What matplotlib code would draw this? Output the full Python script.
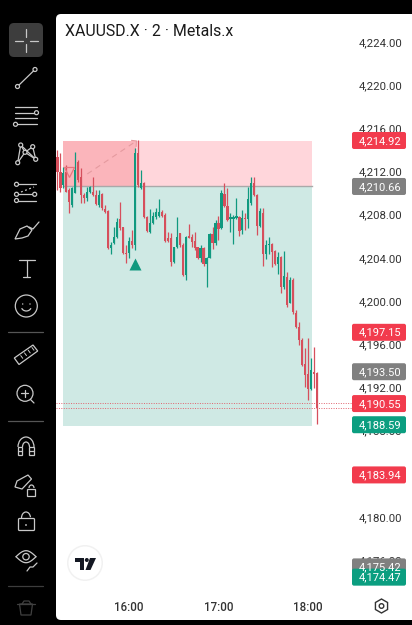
import numpy as np
import matplotlib
matplotlib.use("Agg")
import matplotlib.pyplot as plt
from matplotlib.patches import FancyBboxPatch, Rectangle, Circle, Polygon, RegularPolygon, Arc

plt.rcParams['font.family'] = ['Roboto', 'DejaVu Sans']

TITLE = "XAUUSD.X · 2 · Metals.x"
first_minute = -48   # minutes relative to 16:00
step_minutes = 2

opens = [4213.38,4211.99,4210.76,4211.99,4210.29,4208.91,4209.99,4212.92,4211.53,4209.83,4209.52,4210.14,4210.14,4209.83,4208.91,4209.89,4208.50,4208.38,4204.89,4205.36,4205.91,4207.58,4206.84,4204.43,4204.49,4205.60,4205.20,4213.69,4210.45,4210.91,4207.77,4206.44,4207.21,4207.76,4207.89,4208.29,4207.98,4205.82,4205.82,4203.66,4204.98,4206.28,4205.20,4202.42,4206.03,
         4205.97,4205.57,4204.98,4203.97,4204.89,4203.41,4203.97,4206.22,4205.36,4207.27,4206.75,4209.92,4208.81,4207.58,4207.64,4207.67,4207.76,4206.59,4207.67,4207.58,4209.12,4210.91,4209.83,4206.96,4208.13,4204.37,4205.20,4205.26,4204.64,4203.44,4204.06,4201.28,4202.27,4199.86,4201.96,
         4198.93,4197.63,4196.40,4194.15,4193.25,4191.83,4193.40,4193.38]
highs = [4214.00,4213.69,4212.45,4212.61,4210.45,4210.60,4213.84,4213.07,4212.30,4209.99,4210.60,4210.66,4211.53,4210.29,4210.29,4209.99,4208.91,4208.44,4205.51,4206.90,4207.67,4209.21,4206.90,4205.20,4205.97,4206.59,4214.15,4214.92,4212.15,4211.07,4207.89,4208.50,4208.29,4208.60,4209.43,4208.44,4208.13,4206.44,4206.34,4205.05,4207.76,4206.34,4205.36,4206.03,4207.15,
         4206.22,4206.44,4205.05,4205.20,4205.05,4204.12,4206.28,4206.90,4207.52,4207.89,4210.29,4210.91,4210.45,4208.20,4207.98,4209.52,4207.89,4208.44,4208.13,4210.60,4211.53,4211.47,4209.92,4208.60,4208.60,4205.67,4205.97,4205.36,4204.74,4204.58,4204.18,4204.68,4202.73,4202.27,4202.12,
         4199.18,4198.10,4196.55,4195.63,4196.55,4194.70,4195.78,4193.47]
lows = [4210.29,4210.14,4210.45,4210.14,4208.13,4208.75,4209.99,4211.07,4209.12,4209.12,4209.30,4210.05,4209.74,4208.91,4208.75,4208.44,4208.13,4204.80,4204.37,4205.30,4205.82,4206.59,4204.37,4203.50,4203.97,4204.89,4204.74,4210.60,4210.35,4207.67,4206.38,4206.34,4207.15,4207.58,4207.83,4207.76,4205.51,4205.51,4203.26,4203.50,4204.89,4205.05,4202.33,4201.96,4205.82,
        4205.05,4204.74,4203.88,4203.66,4203.26,4201.34,4203.97,4204.80,4205.20,4205.67,4206.65,4208.69,4207.45,4206.44,4205.30,4207.58,4206.07,4206.22,4206.59,4206.75,4208.91,4209.74,4206.13,4206.84,4203.26,4203.88,4204.37,4203.13,4203.35,4202.52,4200.73,4201.10,4199.49,4199.80,4198.80,
        4197.48,4195.94,4193.99,4192.08,4190.85,4191.77,4191.90,4188.62]
closes = [4211.99,4210.45,4211.84,4210.14,4209.21,4210.45,4212.15,4211.22,4209.83,4209.52,4210.14,4210.60,4209.83,4209.00,4209.83,4208.60,4208.29,4204.89,4205.20,4205.97,4207.36,4206.75,4204.43,4204.37,4205.60,4205.20,4213.69,4210.76,4210.91,4207.77,4206.50,4207.27,4207.89,4208.29,4208.29,4207.89,4205.60,4205.60,4203.66,4204.98,4205.91,4205.20,4202.42,4205.97,4205.82,
          4205.51,4204.89,4203.97,4204.89,4203.41,4203.97,4206.22,4205.36,4207.27,4206.68,4209.99,4208.81,4207.52,4207.76,4207.76,4207.89,4206.53,4207.67,4207.58,4209.46,4210.91,4209.83,4206.96,4208.35,4204.37,4205.20,4205.26,4204.58,4203.44,4204.12,4201.28,4202.33,4199.65,4201.96,4198.94,
          4197.63,4196.40,4194.08,4193.16,4191.83,4193.62,4193.20,4190.07]

y_ticks = [4224,4220,4216,4212,4208,4204,4200,4196,4192,4188,4184,4180,4176]
x_ticks = [0, 60, 120]
x_tick_labels = ["16:00", "17:00", "18:00"]

price_labels = [4214.92, 4210.66, 4197.15, 4193.50, 4190.55, 4188.59, 4183.94, 4175.42, 4174.47]
price_colors = ['#f23b4d', '#808080', '#f23b4d', '#808080', '#f23b4d', '#0b9e80', '#f23b4d', '#808080', '#0b9e80']

stop_level, entry_level, target_level = 4214.83, 4210.66, 4188.40
box_start, box_end, box_split = -44.2, 122.7, 5
dotted_levels = [4190.55, 4190.10]
buy_marker = (4, 4203.44)
sell_marker = (-40.2, 4212.0)
path_line = ([-28, 5], [4211.77, 4214.83])

RED, GREEN = '#d64f5c', '#10997f'
W, H = 412, 625

fig = plt.figure(figsize=(W/100, H/100), dpi=100, facecolor='black')

# white rounded panel
bg = fig.add_axes([0, 0, 1, 1], zorder=0)
bg.set_xlim(0, W); bg.set_ylim(H, 0); bg.axis('off')
bg.add_patch(FancyBboxPatch((56+5, 14+5), 380, 596, boxstyle="round,pad=5,rounding_size=5",
                            fc='white', ec='none'))
bg.add_patch(Rectangle((0, 620), W, 6, fc='black', ec='none'))

# chart axes: pixels 56..352 wide, 14..595 tall
L, R, T, B = 56, 352, 14, 595
ax = fig.add_axes([L/W, 1-B/H, (R-L)/W, (B-T)/H], zorder=1)
ax.patch.set_alpha(0)
for s in ax.spines.values():
    s.set_visible(False)
ax.set_xlim(-48.94, 149.5)
ax.set_ylim(4172.77, 4226.59)

t = first_minute + step_minutes*np.arange(len(opens))
o, h, l, c = map(np.array, (opens, highs, lows, closes))

ax.add_patch(Rectangle((box_start, entry_level), box_end-box_start, stop_level-entry_level, fc='#ffd6db', ec='none', zorder=1))
ax.add_patch(Rectangle((box_start, entry_level), box_split-box_start, stop_level-entry_level, fc='#fbb5bb', ec='none', zorder=1.1))
ax.add_patch(Rectangle((box_start, target_level), box_end-box_start, entry_level-target_level, fc='#cfe9e4', ec='none', zorder=1))
ax.plot([box_start, box_end], [entry_level]*2, color='#a9a9a9', lw=1.0, zorder=1.2)

ax.plot(*path_line, color='#e59a9f', lw=0.8, ls=(0, (5, 4)), zorder=1.3)
ax.plot([path_line[0][1]-3.2, path_line[0][1], path_line[0][1]-0.2],
        [path_line[1][1]+0.05, path_line[1][1], path_line[1][1]-0.5], color='#e59a9f', lw=0.8, zorder=1.3)

cols = np.where(c >= o, GREEN, RED)
ax.vlines(t, l, h, colors=cols, lw=0.9, zorder=3)
body = np.maximum(np.abs(c-o), 0.08)
ax.bar(t, body, bottom=np.minimum(o, c), width=1.5, color=cols, lw=0, zorder=3.1)

for lev in dotted_levels:
    ax.axhline(lev, color='#e0646f', lw=0.7, ls=(0, (1, 1.5)), zorder=4)

ax.plot(*buy_marker, marker='^', ms=8.5, mfc=GREEN, mec='none', zorder=5)
ax.plot(*sell_marker, marker='v', ms=7.5, mfc='none', mec='#e9747e', mew=0.9, zorder=5)

ax.yaxis.tick_right()
ax.set_yticks(y_ticks)
ax.set_yticklabels([f"{v:,.2f}" for v in y_ticks])
ax.set_xticks(x_ticks)
ax.set_xticklabels(x_tick_labels)
ax.tick_params(axis='y', length=0, pad=4.6, labelsize=8.2, labelcolor='#333333')
ax.tick_params(axis='x', length=0, pad=4.4, labelsize=8.3, labelcolor='#333333')
for lab in ax.get_xticklabels():
    lab.set_fontweight('medium')

# overlay in pixel units
ov = fig.add_axes([0, 0, 1, 1], zorder=2)
ov.set_xlim(0, W); ov.set_ylim(H, 0); ov.axis('off'); ov.patch.set_alpha(0)

ov.text(65, 31, TITLE, fontsize=11.45, color='#1a1a1a', va='center', ha='left')

for p, col in zip(price_labels, price_colors):
    py = H - ax.transData.transform((0, p))[1]
    ov.add_patch(FancyBboxPatch((354, py-6), 50, 13, boxstyle="round,pad=2,rounding_size=2", fc=col, ec='none', zorder=5))
    ov.text(359, py+0.8, f"{p:,.2f}", color='white', fontsize=8, va='center', ha='left', zorder=6)

# TV badge
ov.add_patch(Circle((85, 563), 18, fc='#e8e8e8', ec='none', alpha=0.6))
ov.add_patch(Circle((85, 563), 16.5, fc='white', ec='none'))
ov.add_patch(Polygon([(75, 558), (84, 558), (84, 570), (80, 570), (80, 562), (75, 562)], fc='#131722', ec='none'))
ov.add_patch(Circle((86.8, 560), 2, fc='#131722', ec='none'))
ov.add_patch(Polygon([(90, 558), (96, 558), (90.5, 570), (85.5, 570)], fc='#131722', ec='none'))

# settings hexagon
ov.add_patch(RegularPolygon((381.5, 606), 6, radius=7, orientation=0, fc='none', ec='#333333', lw=1.0))
ov.add_patch(Circle((381.5, 606), 2.3, fc='none', ec='#333333', lw=1.0))

# sidebar icons
IC = '#c9c9c9'
LW = 0.9
def ln(xs, ys, col=IC, lw=LW, **k):
    ov.plot(xs, ys, color=col, lw=lw, solid_capstyle='round', **k)
def nd(x, y, r=2):
    ov.add_patch(Circle((x, y), r, fc='black', ec=IC, lw=LW, zorder=3))

ov.add_patch(FancyBboxPatch((12, 26), 28, 28, boxstyle="round,pad=3,rounding_size=5", fc='#3d3d3d', ec='none'))
ln([26.5, 26.5], [29, 37], '#c8c8c8'); ln([26.5, 26.5], [44, 52], '#c8c8c8')
ln([15, 23], [40.5, 40.5], '#c8c8c8'); ln([30, 38], [40.5, 40.5], '#c8c8c8')

ln([17.5, 35], [86.5, 69.5]); nd(17.5, 86.5); nd(35, 69.5)

ln([15, 37], [106.7, 106.7]); ln([15, 35], [112.7, 112.7]); nd(36.5, 112.7)
ln([15, 37], [118.3, 118.3]); ln([17, 37], [124.3, 124.3]); nd(15.5, 124.3)

pts = {'a': (20.7, 145), 'b': (32.7, 146.7), 'c': (25, 152.3), 'd': (17.7, 162.7), 'e': (35.7, 159.3)}
for u, v in ['ac', 'ad', 'cb', 'ce', 'be', 'cd', 'ae']:
    ln([pts[u][0], pts[v][0]], [pts[u][1], pts[v][1]])
for x, y in pts.values():
    nd(x, y)

ln([18, 36], [184.3, 184.3]); nd(16.5, 184.3)
ln([18, 33], [194.3, 194.3]); nd(16.5, 194.3); nd(34.7, 194.3)
ln([18, 36], [200.5, 200.5]); nd(16.5, 200.5)
ln([21, 34], [192, 187], ls=(0, (1.5, 2)))

ov.add_patch(Polygon([(15, 239), (20, 229), (27, 226), (32, 230), (28, 236), (22, 238)], fc='none', ec=IC, lw=LW))
ln([29, 33, 39], [227, 229, 222])

ln([19.5, 35], [260, 260]); ln([26.7, 26.7], [260, 277]); ln([23, 30.5], [277, 277])

ov.add_patch(Circle((26.3, 306), 11, fc='none', ec=IC, lw=LW))
ov.add_patch(Circle((22.7, 304), 0.7, fc=IC, ec='none')); ov.add_patch(Circle((30, 304), 0.7, fc=IC, ec='none'))
ov.add_patch(Arc((26.3, 306.5), 10, 9, theta1=20, theta2=160, ec=IC, lw=LW))

for yy in [331.7, 420.7]:
    ln([8.5, 43.5], [yy, yy], '#555555')
ln([8.5, 43.5], [585.7, 585.7], '#3d3d3d')

ov.add_patch(Polygon([(14.3, 358), (33, 345), (37.7, 351), (19, 364.5)], fc='none', ec=IC, lw=LW))
for fx in (0.2, 0.4, 0.6, 0.8):
    x0, y0 = 19+(37.7-19)*fx, 364.5-(364.5-351)*fx
    ln([x0, x0-2], [y0-3.5, y0-6.2], lw=0.7)

ov.add_patch(Circle((25, 393.3), 8, fc='none', ec=IC, lw=LW))
ln([30.5, 34], [399.5, 403]); ln([21.5, 28.5], [393.3, 393.3]); ln([25, 25], [390, 397])

ov.add_patch(Arc((26, 447), 16, 20, theta1=180, theta2=360, ec=IC, lw=LW))
ov.add_patch(Arc((26, 447), 7, 10, theta1=180, theta2=360, ec=IC, lw=LW))
ov.add_patch(Rectangle((18, 447), 4.5, 8, fc='none', ec=IC, lw=LW))
ov.add_patch(Rectangle((29.5, 447), 4.5, 8, fc='none', ec=IC, lw=LW))
ln([18, 22.5], [451, 451]); ln([29.5, 34], [451, 451])

ov.add_patch(Polygon([(15, 487), (17, 481), (28, 475), (31.5, 479), (22, 489)], fc='none', ec=IC, lw=LW))
ov.add_patch(Rectangle((27.5, 489), 8, 7, fc='none', ec=IC, lw=LW))
ov.add_patch(Arc((31.5, 488), 5, 6, theta1=180, theta2=360, ec=IC, lw=LW))

ov.add_patch(FancyBboxPatch((19, 519), 15, 11, boxstyle="round,pad=0.5,rounding_size=1", fc='none', ec=IC, lw=LW))
ov.add_patch(Arc((26, 518), 9, 12, theta1=180, theta2=350, ec=IC, lw=LW))
ov.add_patch(Circle((26, 525), 0.9, fc=IC, ec='none'))

xe = np.linspace(16, 36, 30)
ye = 6.0*np.sin((xe-16)/20*np.pi)
ln(xe, 556.7-ye); ln(xe, 556.7+ye)
ov.add_patch(Circle((26, 556.7), 3.2, fc='none', ec=IC, lw=LW))
ln([27, 30, 33, 37], [571, 567, 567, 563])

ov.add_patch(Polygon([(19.5, 604), (32.5, 604), (31, 615), (21, 615)], fc='none', ec='#404040', lw=LW))
ln([17, 35], [604, 604], '#404040'); ln([22, 24, 29, 31], [604, 601, 601, 604], '#404040')
ov.set_xlim(0, W); ov.set_ylim(H, 0)

fig.savefig('out.png', dpi=100, facecolor='black')
